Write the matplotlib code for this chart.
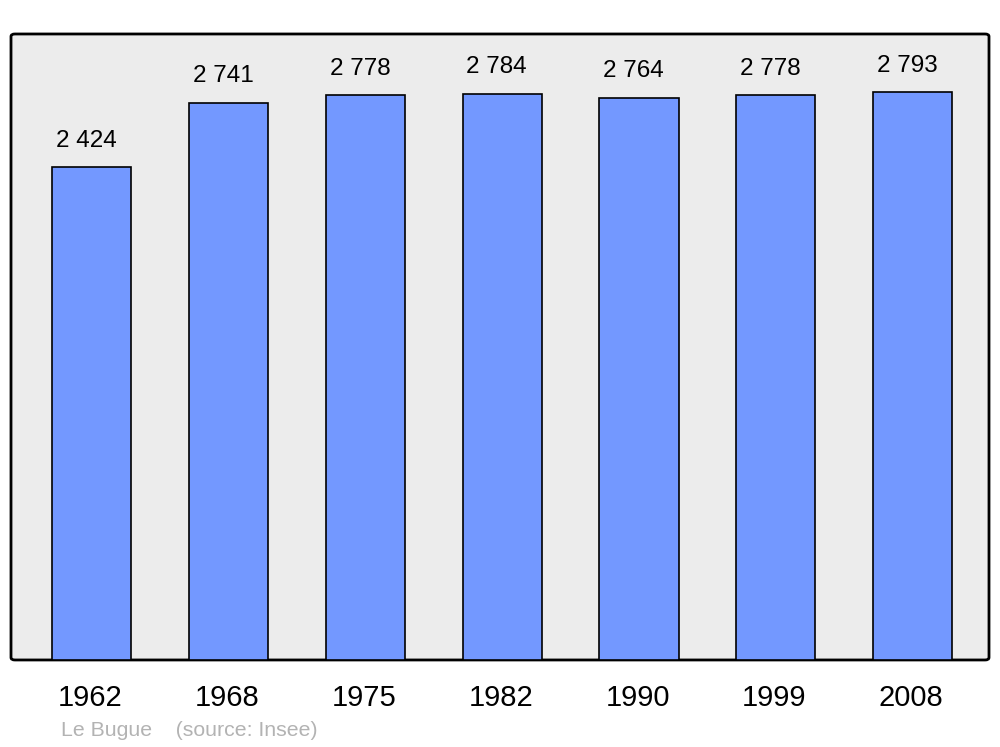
import matplotlib
matplotlib.use("Agg")
import matplotlib.pyplot as plt
from matplotlib.patches import FancyBboxPatch

# population data
years = ["1962", "1968", "1975", "1982", "1990", "1999", "2008"]
population = [2424, 2741, 2778, 2784, 2764, 2778, 2793]
value_labels = ["2 424", "2 741", "2 778", "2 784", "2 764", "2 778", "2 793"]
place = "Le Bugue"
source = "(source: Insee)"

plt.rcParams['font.family'] = ['Liberation Sans', 'DejaVu Sans']

fig = plt.figure(figsize=(10, 7.47), dpi=100)
ax = fig.add_axes([0.011, 0.1165, 0.978, 0.8380])
ax.set_xlim(-0.592, 6.559)
ax.set_ylim(0, 3078)
ax.axis('off')

# frame with rounded corners
frame = FancyBboxPatch((0, 0), 1, 1, boxstyle="round,pad=0,rounding_size=0.004",
                       transform=ax.transAxes, facecolor='#ececec',
                       edgecolor='black', linewidth=2, zorder=0, clip_on=False)
ax.add_patch(frame)

x = list(range(len(years)))
bars = ax.bar(x, population, width=0.578, color='#7398ff', edgecolor='black',
              linewidth=1.2, zorder=2)

for xi, yi, lab in zip(x, population, value_labels):
    ax.annotate(lab, (xi - 0.04, yi), xytext=(0, 19), textcoords='offset points',
                ha='center', va='center', fontsize=17.5, color='black')

for xi, yr in zip(x, years):
    ax.text(xi - 0.01, -0.061, yr, transform=ax.get_xaxis_transform(),
            ha='center', va='center', fontsize=21)

fig.text(0.061, 0.022, place + "    " + source, ha='left', va='center',
         fontsize=15.3, color='#b3b3b3')

fig.savefig("out.png", dpi=100, facecolor='white')
